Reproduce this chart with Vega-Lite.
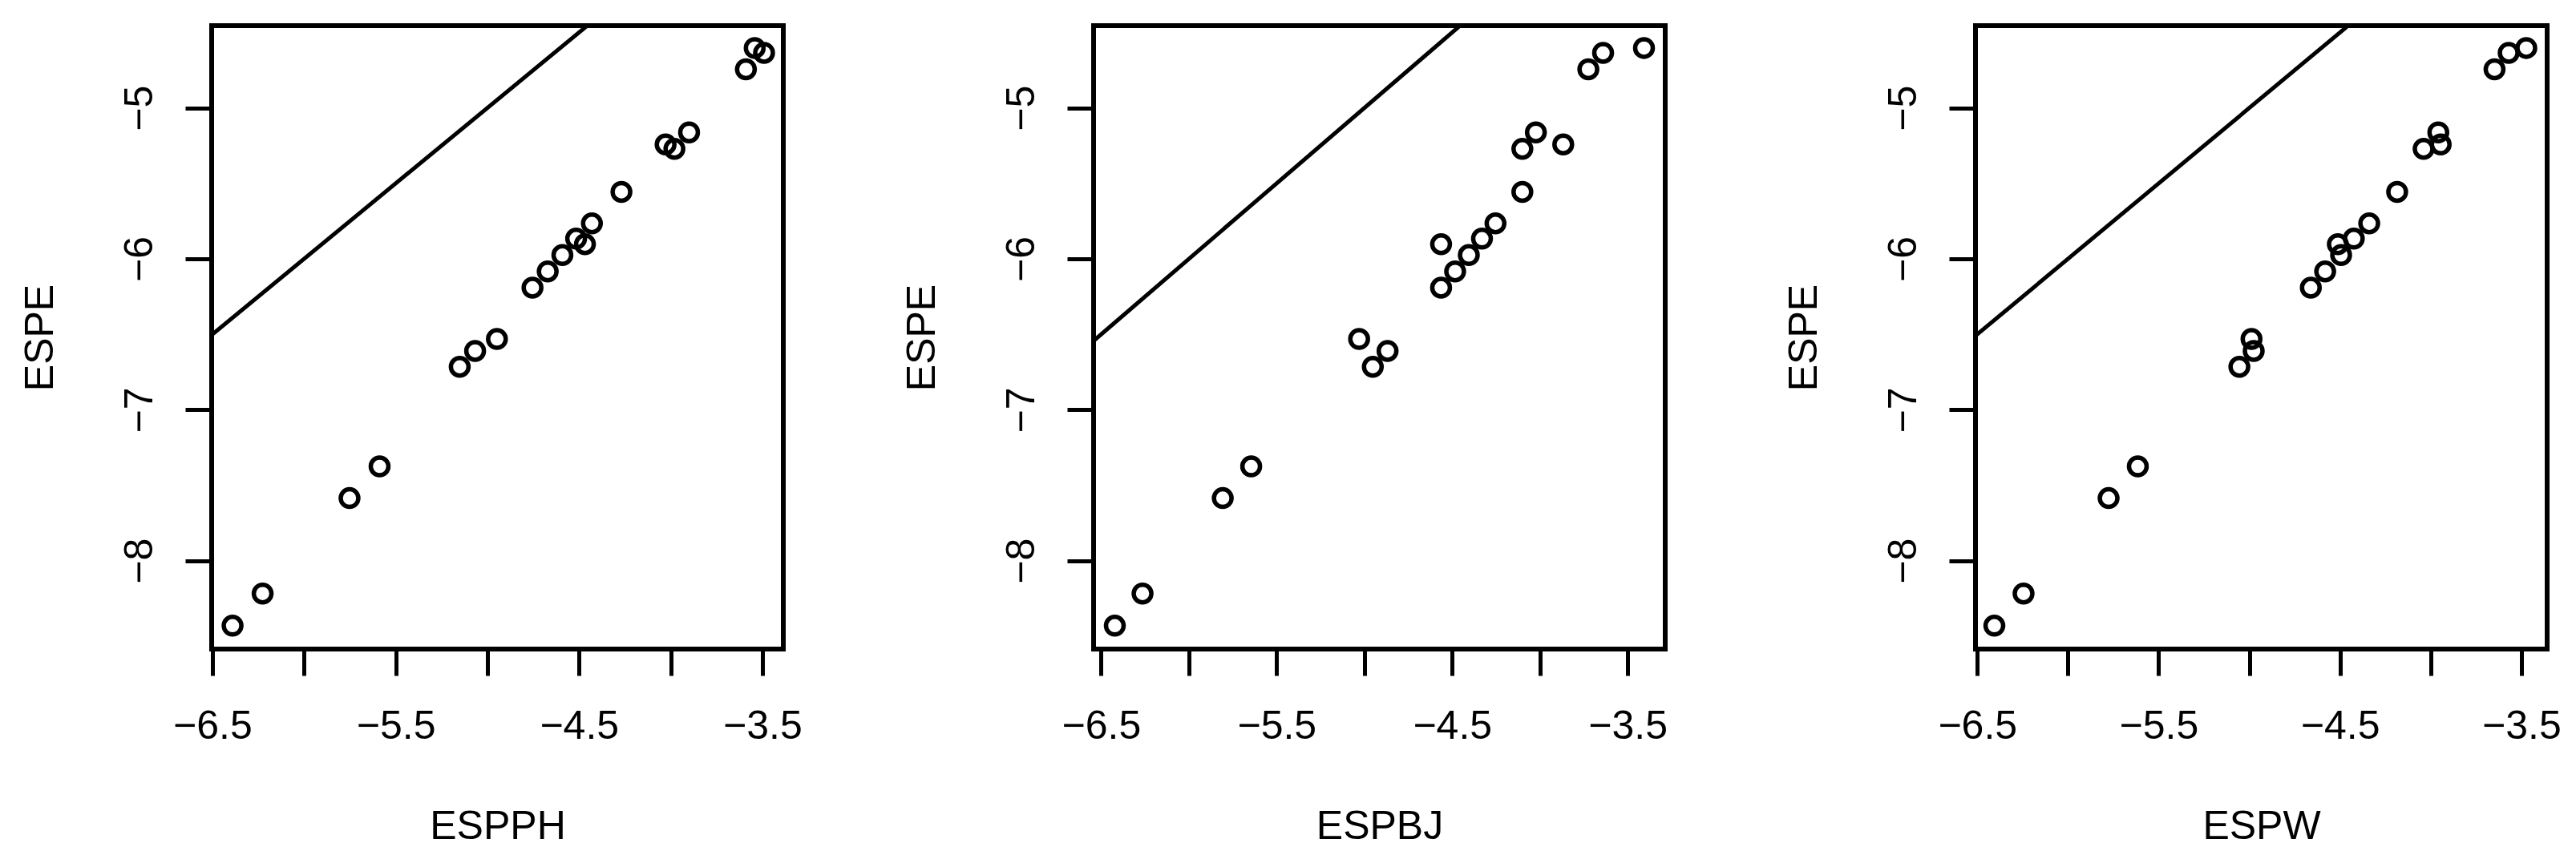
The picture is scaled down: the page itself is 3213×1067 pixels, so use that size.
{
  "$schema": "https://vega.github.io/schema/vega-lite/v6.json",
  "background": "white",
  "padding": {"left": 22, "top": 29, "right": 0, "bottom": 0},
  "datasets": {
    "pts": [
      {"panel": "ESPPH", "x": -6.390, "y": -8.430},
      {"panel": "ESPPH", "x": -6.226, "y": -8.217},
      {"panel": "ESPPH", "x": -5.752, "y": -7.585},
      {"panel": "ESPPH", "x": -5.588, "y": -7.375},
      {"panel": "ESPPH", "x": -5.151, "y": -6.715},
      {"panel": "ESPPH", "x": -5.067, "y": -6.610},
      {"panel": "ESPPH", "x": -4.948, "y": -6.531},
      {"panel": "ESPPH", "x": -4.754, "y": -6.191},
      {"panel": "ESPPH", "x": -4.671, "y": -6.083},
      {"panel": "ESPPH", "x": -4.591, "y": -5.975},
      {"panel": "ESPPH", "x": -4.516, "y": -5.866},
      {"panel": "ESPPH", "x": -4.468, "y": -5.903},
      {"panel": "ESPPH", "x": -4.430, "y": -5.765},
      {"panel": "ESPPH", "x": -4.269, "y": -5.556},
      {"panel": "ESPPH", "x": -4.028, "y": -5.242},
      {"panel": "ESPPH", "x": -3.980, "y": -5.271},
      {"panel": "ESPPH", "x": -3.900, "y": -5.162},
      {"panel": "ESPPH", "x": -3.590, "y": -4.744},
      {"panel": "ESPPH", "x": -3.542, "y": -4.603},
      {"panel": "ESPPH", "x": -3.491, "y": -4.635},
      {"panel": "ESPBJ", "x": -6.422, "y": -8.430},
      {"panel": "ESPBJ", "x": -6.264, "y": -8.217},
      {"panel": "ESPBJ", "x": -5.807, "y": -7.585},
      {"panel": "ESPBJ", "x": -5.645, "y": -7.375},
      {"panel": "ESPBJ", "x": -5.030, "y": -6.531},
      {"panel": "ESPBJ", "x": -4.952, "y": -6.715},
      {"panel": "ESPBJ", "x": -4.868, "y": -6.610},
      {"panel": "ESPBJ", "x": -4.563, "y": -5.903},
      {"panel": "ESPBJ", "x": -4.563, "y": -6.191},
      {"panel": "ESPBJ", "x": -4.483, "y": -6.083},
      {"panel": "ESPBJ", "x": -4.405, "y": -5.975},
      {"panel": "ESPBJ", "x": -4.330, "y": -5.866},
      {"panel": "ESPBJ", "x": -4.253, "y": -5.765},
      {"panel": "ESPBJ", "x": -4.100, "y": -5.556},
      {"panel": "ESPBJ", "x": -4.100, "y": -5.271},
      {"panel": "ESPBJ", "x": -4.023, "y": -5.162},
      {"panel": "ESPBJ", "x": -3.867, "y": -5.242},
      {"panel": "ESPBJ", "x": -3.724, "y": -4.744},
      {"panel": "ESPBJ", "x": -3.640, "y": -4.635},
      {"panel": "ESPBJ", "x": -3.407, "y": -4.603},
      {"panel": "ESPW", "x": -6.406, "y": -8.430},
      {"panel": "ESPW", "x": -6.245, "y": -8.217},
      {"panel": "ESPW", "x": -5.776, "y": -7.585},
      {"panel": "ESPW", "x": -5.615, "y": -7.375},
      {"panel": "ESPW", "x": -5.055, "y": -6.715},
      {"panel": "ESPW", "x": -4.988, "y": -6.531},
      {"panel": "ESPW", "x": -4.976, "y": -6.610},
      {"panel": "ESPW", "x": -4.661, "y": -6.191},
      {"panel": "ESPW", "x": -4.582, "y": -6.083},
      {"panel": "ESPW", "x": -4.512, "y": -5.903},
      {"panel": "ESPW", "x": -4.494, "y": -5.975},
      {"panel": "ESPW", "x": -4.424, "y": -5.866},
      {"panel": "ESPW", "x": -4.339, "y": -5.765},
      {"panel": "ESPW", "x": -4.185, "y": -5.556},
      {"panel": "ESPW", "x": -4.039, "y": -5.271},
      {"panel": "ESPW", "x": -3.958, "y": -5.162},
      {"panel": "ESPW", "x": -3.945, "y": -5.242},
      {"panel": "ESPW", "x": -3.648, "y": -4.744},
      {"panel": "ESPW", "x": -3.570, "y": -4.635},
      {"panel": "ESPW", "x": -3.473, "y": -4.603}
    ],
    "diag": [{"x": -6.7, "y": -6.7}, {"x": -4.3, "y": -4.3}]
  },
  "config": {
    "font": "Liberation Sans",
    "view": {"stroke": "black", "strokeWidth": 6}
  },
  "spacing": 387,
  "bounds": "flush",
  "hconcat": [
    {
      "width": 713, "height": 778,
      "layer": [
        {
          "data": {"name": "diag"},
          "mark": {"type": "line", "color": "black", "strokeWidth": 5, "clip": true},
          "encoding": {
            "x": {"field": "x", "type": "quantitative", "scale": {"domain": [-6.504, -3.386], "nice": false, "zero": false},
              "axis": {"title": "ESPPH", "values": [-6.5, -6, -5.5, -5, -4.5, -4, -3.5], "format": ".1f", "labelExpr": "(datum.value*2)%2 != 0 ? datum.label : ''", "domain": false, "grid": false, "tickColor": "black", "tickWidth": 5, "tickSize": 33, "labelColor": "black", "labelFontSize": 50, "labelFont": "Liberation Sans", "labelFlush": false, "labelOverlap": false, "labelBaseline": "alphabetic", "labelPadding": 78, "titleColor": "black", "titleFont": "Liberation Sans", "titleFontSize": 50, "titleFontWeight": "normal", "titleY": 236, "titleBaseline": "alphabetic"}},
            "y": {"field": "y", "type": "quantitative", "scale": {"domain": [-8.585, -4.455], "nice": false, "zero": false},
              "axis": {"title": "ESPE", "values": [-8, -7, -6, -5], "format": "d", "domain": false, "grid": false, "tickColor": "black", "tickWidth": 5, "tickSize": 33, "labelColor": "black", "labelFontSize": 50, "labelFont": "Liberation Sans", "labelFlush": false, "labelOverlap": false, "labelAngle": -90, "labelAlign": "center", "labelBaseline": "alphabetic", "labelPadding": 42, "titleColor": "black", "titleFont": "Liberation Sans", "titleFontSize": 50, "titleFontWeight": "normal", "titleAngle": -90, "titleX": -199, "titleY": 389, "titleAlign": "center", "titleBaseline": "alphabetic"}}
          }
        },
        {
          "data": {"name": "pts"},
          "transform": [{"filter": "datum.panel === 'ESPPH'"}],
          "mark": {"type": "point", "shape": "circle", "filled": false, "stroke": "black", "strokeWidth": 5.5, "size": 484, "opacity": 1},
          "encoding": {
            "x": {"field": "x", "type": "quantitative"},
            "y": {"field": "y", "type": "quantitative"}
          }
        }
      ]
    },
    {
      "width": 713, "height": 778,
      "layer": [
        {
          "data": {"name": "diag"},
          "mark": {"type": "line", "color": "black", "strokeWidth": 5, "clip": true},
          "encoding": {
            "x": {"field": "x", "type": "quantitative", "scale": {"domain": [-6.543, -3.286], "nice": false, "zero": false},
              "axis": {"title": "ESPBJ", "values": [-6.5, -6, -5.5, -5, -4.5, -4, -3.5], "format": ".1f", "labelExpr": "(datum.value*2)%2 != 0 ? datum.label : ''", "domain": false, "grid": false, "tickColor": "black", "tickWidth": 5, "tickSize": 33, "labelColor": "black", "labelFontSize": 50, "labelFont": "Liberation Sans", "labelFlush": false, "labelOverlap": false, "labelBaseline": "alphabetic", "labelPadding": 78, "titleColor": "black", "titleFont": "Liberation Sans", "titleFontSize": 50, "titleFontWeight": "normal", "titleY": 236, "titleBaseline": "alphabetic"}},
            "y": {"field": "y", "type": "quantitative", "scale": {"domain": [-8.585, -4.455], "nice": false, "zero": false},
              "axis": {"title": "ESPE", "values": [-8, -7, -6, -5], "format": "d", "domain": false, "grid": false, "tickColor": "black", "tickWidth": 5, "tickSize": 33, "labelColor": "black", "labelFontSize": 50, "labelFont": "Liberation Sans", "labelFlush": false, "labelOverlap": false, "labelAngle": -90, "labelAlign": "center", "labelBaseline": "alphabetic", "labelPadding": 42, "titleColor": "black", "titleFont": "Liberation Sans", "titleFontSize": 50, "titleFontWeight": "normal", "titleAngle": -90, "titleX": -199, "titleY": 389, "titleAlign": "center", "titleBaseline": "alphabetic"}}
          }
        },
        {
          "data": {"name": "pts"},
          "transform": [{"filter": "datum.panel === 'ESPBJ'"}],
          "mark": {"type": "point", "shape": "circle", "filled": false, "stroke": "black", "strokeWidth": 5.5, "size": 484, "opacity": 1},
          "encoding": {
            "x": {"field": "x", "type": "quantitative"},
            "y": {"field": "y", "type": "quantitative"}
          }
        }
      ]
    },
    {
      "width": 713, "height": 778,
      "layer": [
        {
          "data": {"name": "diag"},
          "mark": {"type": "line", "color": "black", "strokeWidth": 5, "clip": true},
          "encoding": {
            "x": {"field": "x", "type": "quantitative", "scale": {"domain": [-6.510, -3.358], "nice": false, "zero": false},
              "axis": {"title": "ESPW", "values": [-6.5, -6, -5.5, -5, -4.5, -4, -3.5], "format": ".1f", "labelExpr": "(datum.value*2)%2 != 0 ? datum.label : ''", "domain": false, "grid": false, "tickColor": "black", "tickWidth": 5, "tickSize": 33, "labelColor": "black", "labelFontSize": 50, "labelFont": "Liberation Sans", "labelFlush": false, "labelOverlap": false, "labelBaseline": "alphabetic", "labelPadding": 78, "titleColor": "black", "titleFont": "Liberation Sans", "titleFontSize": 50, "titleFontWeight": "normal", "titleY": 236, "titleBaseline": "alphabetic"}},
            "y": {"field": "y", "type": "quantitative", "scale": {"domain": [-8.585, -4.455], "nice": false, "zero": false},
              "axis": {"title": "ESPE", "values": [-8, -7, -6, -5], "format": "d", "domain": false, "grid": false, "tickColor": "black", "tickWidth": 5, "tickSize": 33, "labelColor": "black", "labelFontSize": 50, "labelFont": "Liberation Sans", "labelFlush": false, "labelOverlap": false, "labelAngle": -90, "labelAlign": "center", "labelBaseline": "alphabetic", "labelPadding": 42, "titleColor": "black", "titleFont": "Liberation Sans", "titleFontSize": 50, "titleFontWeight": "normal", "titleAngle": -90, "titleX": -199, "titleY": 389, "titleAlign": "center", "titleBaseline": "alphabetic"}}
          }
        },
        {
          "data": {"name": "pts"},
          "transform": [{"filter": "datum.panel === 'ESPW'"}],
          "mark": {"type": "point", "shape": "circle", "filled": false, "stroke": "black", "strokeWidth": 5.5, "size": 484, "opacity": 1},
          "encoding": {
            "x": {"field": "x", "type": "quantitative"},
            "y": {"field": "y", "type": "quantitative"}
          }
        }
      ]
    }
  ]
}
